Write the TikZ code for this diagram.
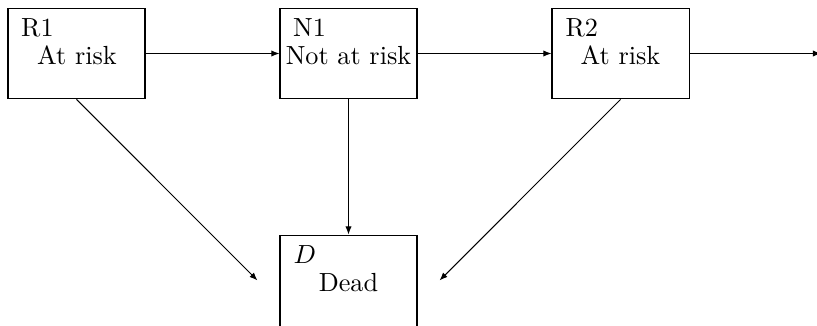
\documentclass[tikz,border=0pt]{standalone}
\usetikzlibrary{arrows.meta}
\begin{document}
\begin{tikzpicture}[x=0.3817pt, y=-0.3817pt,
  box/.style={draw, rectangle, minimum width=52.3pt, minimum height=34.7pt, inner sep=0pt},
  maintext/.style={anchor=base, inner sep=0pt},
  tag/.style={anchor=base west, inner sep=0pt},
  arr/.style={-{Latex[length=3.1pt,width=2.4pt]}, line width=0.4pt}]
\useasboundingbox (0,0) rectangle (817,325);
% boxes
\node[box] (R1) at (76.5,53.5) {};
\node[box] (N1) at (348.5,53.5) {};
\node[box] (R2) at (620.5,53.5) {};
\node[box, minimum height=38pt] (D) at (348.5,284.8) {};
% labels
\node[tag] (R1l) at (20.7,36) {R1};
\node[maintext] (R1t) at (77,64) {At risk};
\node[tag] (N1l) at (292.7,36) {N1};
\node[maintext] (N1t) at (348.5,64) {Not at risk};
\node[tag] (R2l) at (565,36) {R2};
\node[maintext] (R2t) at (620.5,64) {At risk};
\node[tag] (Dl) at (293,263) {$D$};
\node[maintext] (Dt) at (348.5,291) {Dead};
% free ends
\coordinate (out) at (821,53.5);
\coordinate (dl) at (257.5,280.5);
\coordinate (dr) at (439.5,280.5);
% connectors
\draw[arr] (R1.east) -- (N1.west);
\draw[arr] (N1.east) -- (R2.west);
\draw[arr] (R2.east) -- (out);
\draw[arr] (R1.south) -- (dl);
\draw[arr] (R2.south) -- (dr);
\draw[arr] (N1.south) -- (D.north);
\end{tikzpicture}
\end{document}
